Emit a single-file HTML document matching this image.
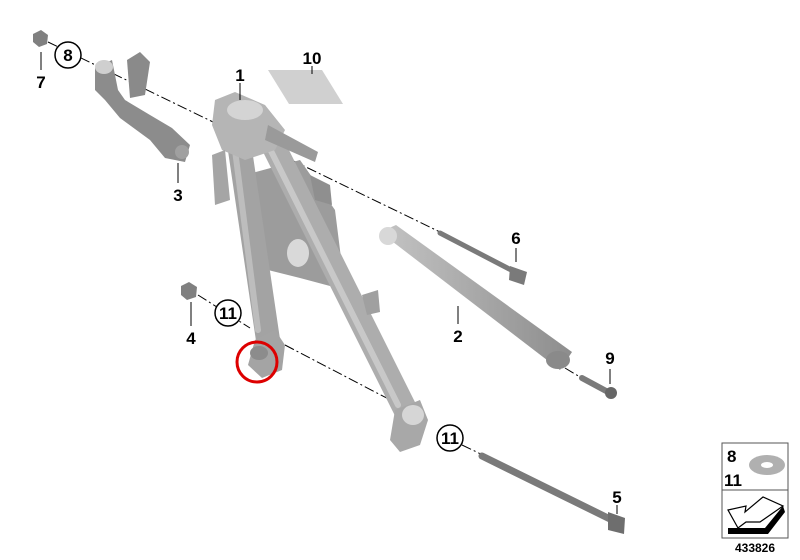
<!DOCTYPE html>
<html><head><style>
html,body{margin:0;padding:0;background:#fff;}
svg{display:block}
text{font-family:"Liberation Sans",sans-serif;font-weight:bold;fill:#000}
</style></head><body>
<svg width="800" height="560" viewBox="0 0 800 560" xmlns="http://www.w3.org/2000/svg">
<defs>
<linearGradient id="g2" x1="0" y1="0" x2="1" y2="0">
<stop offset="0" stop-color="#c4c4c4"/><stop offset="1" stop-color="#8d8d8d"/>
</linearGradient>
</defs>
<!-- dash-dot lines -->
<g stroke="#000" stroke-width="1" stroke-dasharray="10,3,2,3" fill="none">
<line x1="48" y1="42" x2="440" y2="232"/>
<line x1="198" y1="295" x2="250" y2="328"/>
<line x1="285" y1="345" x2="400" y2="405"/>
<line x1="462" y1="445" x2="485" y2="456"/>
<line x1="565" y1="368" x2="585" y2="380"/>
</g>
<!-- part 10 -->
<polygon points="268,70 322,70 343,104 289,104" fill="#d0d0d0"/>
<!-- part 3 bracket -->
<path d="M127,60 L140,52 L150,62 L145,95 L130,98 Z" fill="#8a8a8a"/>
<path d="M95,68 L112,60 L118,90 L125,100 L150,115 L172,128 L190,145 L185,162 L165,158 L150,140 L120,118 L105,100 L95,90 Z" fill="#8c8c8c"/>
<ellipse cx="104" cy="67" rx="9" ry="7" fill="#cfcfcf"/>
<ellipse cx="182" cy="152" rx="7" ry="7" fill="#a0a0a0"/>
<!-- frame -->
<g fill="none" stroke-linecap="round">
<!-- web -->
<path d="M245,175 L300,160 L335,210 L345,290 L300,278 L260,268 Z" fill="#9c9c9c" stroke="none"/>
<ellipse cx="298" cy="253" rx="11" ry="14" fill="#d9d9d9"/>
<line x1="240" y1="150" x2="268" y2="340" stroke="#a3a3a3" stroke-width="24"/>
<line x1="273" y1="145" x2="408" y2="415" stroke="#adadad" stroke-width="24"/>
<line x1="235" y1="150" x2="258" y2="330" stroke="#bdbdbd" stroke-width="6"/>
<line x1="268" y1="145" x2="398" y2="405" stroke="#c8c8c8" stroke-width="6"/>
</g>
<!-- head -->
<path d="M215,100 L235,92 L265,105 L285,130 L275,150 L245,160 L222,150 L212,125 Z" fill="#b5b5b5"/>
<ellipse cx="245" cy="110" rx="18" ry="10" fill="#d4d4d4"/>
<path d="M268,125 L318,152 L315,162 L265,140 Z" fill="#9a9a9a"/>
<path d="M212,155 L225,150 L230,200 L215,205 Z" fill="#a5a5a5"/>
<path d="M310,175 L330,185 L332,205 L315,200 Z" fill="#8f8f8f"/>
<!-- lugs -->
<path d="M255,340 L275,330 L285,345 L282,370 L262,378 L248,365 Z" fill="#a4a4a4"/>
<ellipse cx="259" cy="353" rx="9" ry="7" fill="#8c8c8c"/>
<path d="M395,410 L420,400 L428,420 L420,445 L400,452 L390,440 Z" fill="#a8a8a8"/>
<ellipse cx="413" cy="415" rx="11" ry="10" fill="#d6d6d6"/>
<path d="M362,295 L378,290 L380,312 L367,315 Z" fill="#a0a0a0"/>
<!-- red circle -->
<circle cx="257" cy="362" r="20" fill="none" stroke="#d00" stroke-width="3"/>
<!-- part 2 strut -->
<polygon points="380,232 396,225 572,352 560,370" fill="url(#g2)"/>
<ellipse cx="388" cy="236" rx="9" ry="9" fill="#d8d8d8"/>
<ellipse cx="558" cy="360" rx="12" ry="9" fill="#8a8a8a"/>
<!-- bolt 6 -->
<line x1="440" y1="233" x2="515" y2="272" stroke="#7a7a7a" stroke-width="5" stroke-linecap="round"/>
<polygon points="510,266 527,272 524,285 509,280" fill="#7a7a7a"/>
<!-- bolt 5 -->
<line x1="482" y1="456" x2="612" y2="520" stroke="#7a7a7a" stroke-width="7" stroke-linecap="round"/>
<polygon points="608,512 625,518 624,534 608,530" fill="#6e6e6e"/>
<!-- bolt 9 -->
<line x1="582" y1="378" x2="608" y2="392" stroke="#7a7a7a" stroke-width="6" stroke-linecap="round"/>
<ellipse cx="611" cy="393" rx="6" ry="6" fill="#666"/>
<!-- nuts -->
<polygon points="33,34 41,30 48,35 47,44 39,47 33,42" fill="#808080"/>
<polygon points="181,286 189,282 197,287 196,297 187,300 181,295" fill="#808080"/>
<!-- leader lines -->
<g stroke="#000" stroke-width="1">
<line x1="240" y1="83" x2="240" y2="100"/>
<line x1="312" y1="66" x2="312" y2="74"/>
<line x1="178" y1="163" x2="178" y2="183"/>
<line x1="41" y1="52" x2="41" y2="70"/>
<line x1="191" y1="302" x2="191" y2="326"/>
<line x1="458" y1="306" x2="458" y2="324"/>
<line x1="516" y1="248" x2="516" y2="262"/>
<line x1="610" y1="369" x2="610" y2="384"/>
<line x1="617" y1="505" x2="617" y2="514"/>
</g>
<!-- circled labels -->
<g fill="#fff" stroke="#000" stroke-width="1.5">
<circle cx="68" cy="55" r="13"/>
<circle cx="228" cy="313" r="13"/>
<circle cx="450" cy="438" r="13"/>
</g>
<g font-size="17" text-anchor="middle">
<text x="68" y="61">8</text>
<text x="228" y="319">11</text>
<text x="450" y="444">11</text>
<text x="240" y="81">1</text>
<text x="312" y="64">10</text>
<text x="41" y="88">7</text>
<text x="178" y="201">3</text>
<text x="191" y="344">4</text>
<text x="458" y="342">2</text>
<text x="516" y="244">6</text>
<text x="610" y="364">9</text>
<text x="617" y="503">5</text>
</g>
<!-- legend -->
<rect x="722" y="443" width="66" height="95" fill="#fff" stroke="#555" stroke-width="1"/>
<line x1="722" y1="490" x2="788" y2="490" stroke="#555"/>
<text x="727" y="462" font-size="17">8</text>
<text x="724" y="486" font-size="17">11</text>
<ellipse cx="767" cy="465" rx="18" ry="10" fill="#b0b0b0"/>
<ellipse cx="767" cy="465" rx="6" ry="3" fill="#fff"/>
<polygon points="728,510 746,506 745,512 763,497 783,506 760,522 746,522 738,528" fill="#fff" stroke="#000" stroke-width="1.2"/>
<polygon points="728,528 765,528 783,506 785,512 768,534 728,534" fill="#000"/>
<text x="755" y="552" font-size="12" font-weight="normal" text-anchor="middle" fill="#333">433826</text>
</svg>
</body></html>
